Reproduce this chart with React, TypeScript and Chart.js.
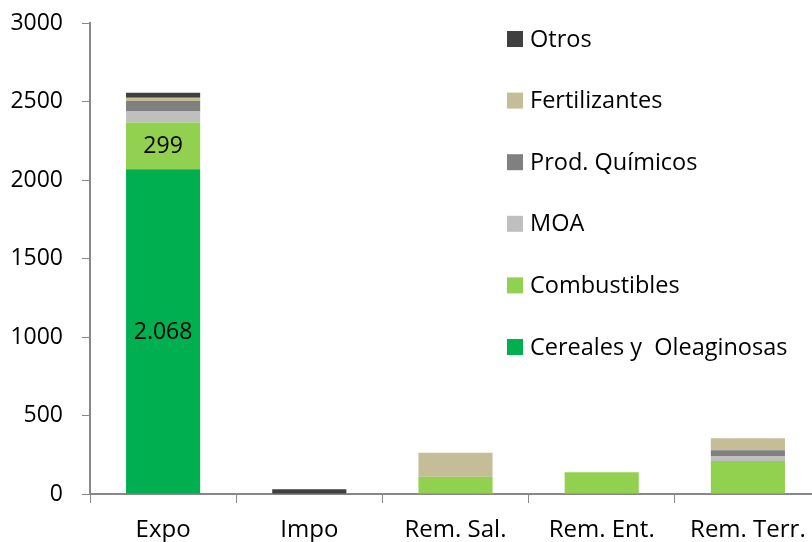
import React, { useEffect, useRef } from "react";
import { Chart, registerables } from "chart.js";

Chart.register(...registerables);

const categories = ["Expo", "Impo", "Rem. Sal.", "Rem. Ent.", "Rem. Terr."];
const cereales = [2068, 0, 0, 0, 0];
const combustibles = [299, 0, 110, 138, 210];
const moa = [72, 0, 0, 0, 32];
const prodQuimicos = [64, 0, 0, 0, 36];
const fertilizantes = [21, 0, 153, 0, 77];
const otros = [32, 30, 0, 0, 0];
const yTicks = [0, 500, 1000, 1500, 2000, 2500, 3000];

const seriesNames = ["Cereales y  Oleaginosas", "Combustibles", "MOA", "Prod. Químicos", "Fertilizantes", "Otros"];
const seriesColors = ["#00B050", "#92D050", "#BFBFBF", "#808080", "#C4BD97", "#404040"];
const FONT = "'Open Sans', sans-serif";

export default function App() {
  const ref = useRef<HTMLCanvasElement | null>(null);
  useEffect(() => {
    if (!ref.current) return;
    const seriesData = [cereales, combustibles, moa, prodQuimicos, fertilizantes, otros];
    const labelPlugin = {
      id: "segLabels",
      afterDatasetsDraw(chart: any) {
        const ctx = chart.ctx;
        ctx.save();
        ctx.fillStyle = "#000";
        ctx.font = `23px ${FONT}`;
        ctx.textAlign = "center";
        ctx.textBaseline = "middle";
        [0, 1].forEach((di) => {
          const el = chart.getDatasetMeta(di).data[0];
          const v = seriesData[di][0];
          const txt = v.toLocaleString("de-DE");
          const cy = (el.y + el.base) / 2;
          ctx.fillText(txt, el.x, cy + 1);
        });
        ctx.restore();
      },
    };
    const legendPlugin = {
      id: "customLegend",
      afterDraw(chart: any) {
        const ctx = chart.ctx;
        ctx.save();
        ctx.font = `23.5px ${FONT}`;
        ctx.textBaseline = "middle";
        ctx.textAlign = "left";
        const order = [5, 4, 3, 2, 1, 0];
        order.forEach((si, i) => {
          const cy = 39 + i * 61.6;
          ctx.fillStyle = seriesColors[si];
          ctx.fillRect(507, cy - 8, 16, 16);
          ctx.fillStyle = "#000";
          ctx.fillText(seriesNames[si], 530, cy + 1);
        });
        ctx.restore();
      },
    };
    const chart = new Chart(ref.current, {
      type: "bar",
      data: {
        labels: categories,
        datasets: seriesData.map((d, i) => ({
          label: seriesNames[i],
          data: d,
          backgroundColor: seriesColors[i],
          borderWidth: 0,
          categoryPercentage: 1,
          barPercentage: 0.507,
        })),
      },
      options: {
        animation: false,
        responsive: false,
        maintainAspectRatio: false,
        layout: { padding: { top: 23, left: 0, right: 0, bottom: 0 } },
        plugins: { legend: { display: false }, tooltip: { enabled: false } },
        scales: {
          x: {
            stacked: true,
            grid: {
              offset: true,
              drawOnChartArea: false,
              drawTicks: true,
              tickLength: 9,
              color: "#888888",
            },
            border: { color: "#888888", width: 2 },
            ticks: { color: "#000", font: { family: FONT, size: 24 }, padding: 13, maxRotation: 0 },
            afterFit: (s: any) => { s.height = 48; s.paddingLeft = 0; s.paddingRight = 0; },
          },
          y: {
            stacked: true,
            min: 0,
            max: 3000,
            afterBuildTicks: (s: any) => { s.ticks = yTicks.map((v) => ({ value: v })); },
            grid: { drawOnChartArea: false, drawTicks: true, tickLength: 8, color: "#888888" },
            border: { color: "#888888", width: 2 },
            ticks: {
              color: "#000",
              font: { family: FONT, size: 23 },
              padding: 19,
              callback: (v: any) => String(v),
            },
            afterFit: (s: any) => { s.width = 90; s.paddingTop = 0; s.paddingBottom = 0; },
          },
        },
      },
      plugins: [labelPlugin, legendPlugin],
    });
    return () => chart.destroy();
  }, []);
  return (
    <div style={{ position: "fixed", left: 0, top: 0, width: 812, height: 542, overflow: "hidden", background: "#fff" }}>
      <canvas ref={ref} width={821} height={542} style={{ display: "block" }} />
    </div>
  );
}
